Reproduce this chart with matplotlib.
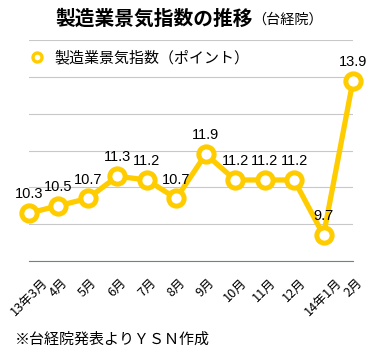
import matplotlib
matplotlib.use("Agg")
import matplotlib.pyplot as plt
from matplotlib.lines import Line2D

plt.rcParams['font.family'] = ['Noto Sans CJK JP', 'DejaVu Sans']

# 月ごとの製造業景気指数
meses = ["13年3月", "4月", "5月", "6月", "7月", "8月", "9月",
         "10月", "11月", "12月", "14年1月", "2月"]
indice = [10.3, 10.5, 10.7, 11.3, 11.2, 10.7, 11.9, 11.2, 11.2, 11.2, 9.7, 13.9]

amarillo = "#FFCC00"

fig = plt.figure(figsize=(3.77, 3.57), dpi=100)
ax = fig.add_axes([29 / 377, 1 - 261 / 357, 324 / 377, 221 / 357])

x = list(range(len(meses)))
ax.plot(x, indice, color=amarillo, lw=3.8, marker="o", markersize=11,
        markerfacecolor="white", markeredgecolor=amarillo, markeredgewidth=3.6,
        clip_on=False, zorder=3)

for xi, v in zip(x, indice):
    ax.annotate(f"{v}", (xi, v), xytext=(0, 8.5), textcoords="offset points",
                ha="center", va="bottom", fontsize=10.5, color="black",
                family=["Liberation Sans", "DejaVu Sans"])

ax.set_xlim(0, len(meses) - 1)
ax.set_ylim(9, 15)
ax.set_yticks(range(9, 16))
ax.set_yticklabels([])
ax.grid(axis="y", color="#c8c8c8", lw=0.8)
ax.set_axisbelow(True)
ax.tick_params(axis="both", length=0)
for s in ["left", "right", "top"]:
    ax.spines[s].set_visible(False)
ax.spines["bottom"].set_color("#708090")
ax.spines["bottom"].set_linewidth(0.8)

ax.set_xticks(x)
ax.set_xticklabels(meses, rotation=45, ha="center", va="top", fontsize=9.2)
ax.tick_params(axis="x", pad=11)

# título
t1 = fig.text(55 / 377, 1 - 19 / 357, "製造業景気指数の推移", fontsize=14.2,
              fontweight="bold", ha="left", va="center")
fig.canvas.draw()
bb = t1.get_window_extent()
fig.text(bb.x1 / fig.bbox.width, 1 - 20 / 357, "（台経院）", fontsize=10.2,
         ha="left", va="center")

# leyenda
handle = Line2D([], [], linestyle="none", marker="o", markersize=6.5,
                markerfacecolor="white", markeredgecolor=amarillo,
                markeredgewidth=2.4)
fig.legend([handle], ["製造業景気指数（ポイント）"], loc="center left",
           bbox_to_anchor=(20 / 377, 1 - 58 / 357), frameon=False,
           fontsize=10.8, handlelength=1.2, handletextpad=0.6, borderpad=0)

fig.text(15 / 377, 1 - 340 / 357, "※台経院発表よりＹＳＮ作成", fontsize=10.8,
         ha="left", va="center")

plt.savefig("out.png", dpi=100)
